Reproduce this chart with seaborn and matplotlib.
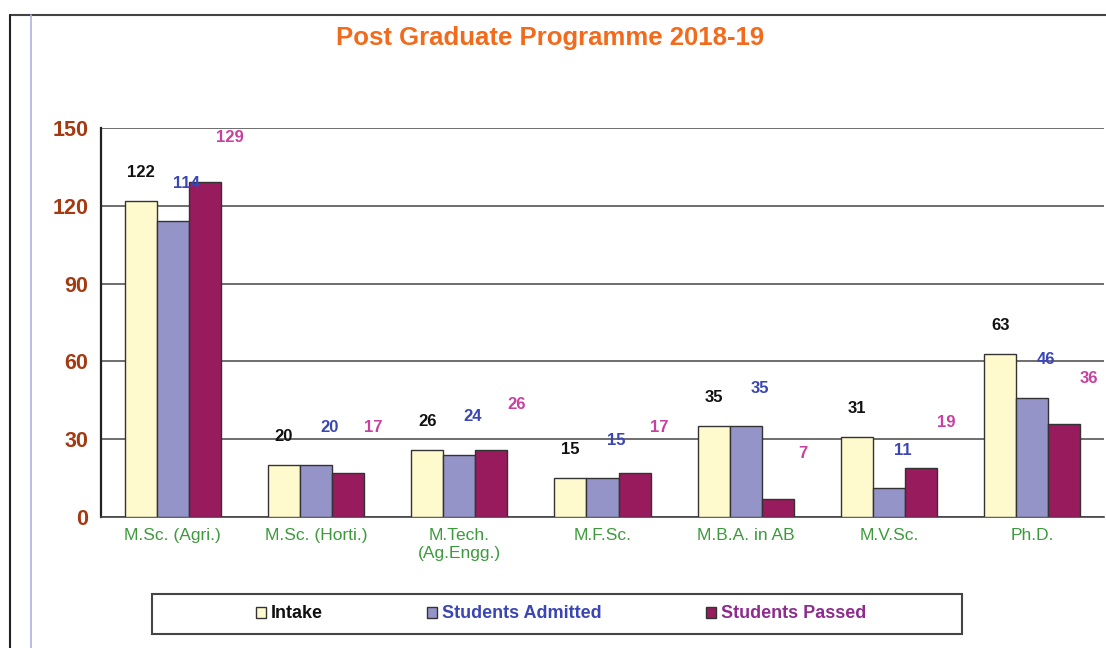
import numpy as np
import pandas as pd
import seaborn as sns
import matplotlib.pyplot as plt
from matplotlib.lines import Line2D
from matplotlib.patches import Rectangle

# chart values
programmes = ['M.Sc. (Agri.)', 'M.Sc. (Horti.)', 'M.Tech.\n(Ag.Engg.)', 'M.F.Sc.',
              'M.B.A. in AB', 'M.V.Sc.', 'Ph.D.']
intake = [122, 20, 26, 15, 35, 31, 63]
admitted = [114, 20, 24, 15, 35, 11, 46]
passed = [129, 17, 26, 17, 7, 19, 36]
series = ['Intake', 'Students Admitted', 'Students Passed']
y_ticks = [0, 30, 60, 90, 120, 150]

bar_colors = ['#FFFACD', '#9494C8', '#981B5E']
label_colors = ['#111111', '#3A46B4', '#C840A0']
legend_text_colors = ['#111111', '#3A46B4', '#8E2C8E']

df = pd.DataFrame({
    'programme': programmes * 3,
    'series': [s for s in series for _ in programmes],
    'value': intake + admitted + passed,
})

sns.set_style('white')
plt.rcParams['font.family'] = ['Liberation Sans', 'DejaVu Sans']

fig = plt.figure(figsize=(11.06, 6.48), dpi=100)
ax = fig.add_axes([101 / 1106, 1 - 517 / 648, 1003 / 1106, 389 / 648])

sns.barplot(data=df, x='programme', y='value', hue='series', order=programmes,
            hue_order=series, palette=bar_colors, width=0.67, edgecolor='#333333',
            linewidth=1.0, saturation=1, ax=ax, legend=False, zorder=3)

# value labels, offset like the original Excel layout
offsets = [(0, 15), (10, 22), (18, 27)]
for cont, col, (dx, dy) in zip(ax.containers, label_colors, offsets):
    for bar in cont:
        h = bar.get_height()
        ax.annotate(f'{h:.0f}', (bar.get_x() + bar.get_width() / 2, h),
                    xytext=(dx, dy), textcoords='offset points', ha='center',
                    va='bottom', fontsize=12, fontweight='bold', color=col)

ax.set_ylim(0, 150)
ax.set_xlim(-0.5, len(programmes) - 0.5)
ax.set_yticks(y_ticks)
ax.set_yticklabels([str(t) for t in y_ticks], fontsize=15.5, fontweight='bold',
                   color='#A33A12')
ax.yaxis.grid(True, color='#555555', linewidth=1.2, zorder=0)
ax.set_axisbelow(True)
ax.tick_params(axis='y', length=6, width=1.2, color='#222222', pad=3)
ax.tick_params(axis='x', which='major', length=0, pad=8, labelsize=12.5,
               labelcolor='#3C9A3C')
ax.set_xticks(np.arange(-0.5, len(programmes), 1), minor=True)
ax.tick_params(axis='x', which='minor', length=4, width=1, color='#444444')
ax.set_xlabel('')
ax.set_ylabel('')
for side in ['top', 'right']:
    ax.spines[side].set_visible(False)
ax.spines['left'].set_linewidth(1.6)
ax.spines['left'].set_color('#222222')
ax.spines['bottom'].set_linewidth(1.2)
ax.spines['bottom'].set_color('#444444')

fig.text(550 / 1106, 1 - 38 / 648, 'Post Graduate Programme 2018-19', ha='center',
         va='center', fontsize=18.5, fontweight='bold', color='#F26A1B')

# page borders
fig.add_artist(Line2D([10 / 1106, 1], [1 - 15 / 648] * 2, color='#444444', lw=1.5))
fig.add_artist(Line2D([10 / 1106] * 2, [0, 1 - 15 / 648], color='#222222', lw=1.5))
fig.add_artist(Line2D([31 / 1106] * 2, [0, 1 - 15 / 648], color='#B0B0E8', lw=1.2))

# legend box
fig.add_artist(Rectangle((152 / 1106, 1 - 634 / 648), 810 / 1106, 40 / 648,
                         transform=fig.transFigure, fill=False,
                         edgecolor='#444444', lw=1.5))
handles = [Rectangle((0, 0), 1, 1, facecolor=c, edgecolor='#333333', lw=1)
           for c in bar_colors]
leg = fig.legend(handles, series, loc='center', bbox_to_anchor=(561 / 1106, 1 - 614 / 648),
                 ncol=3, frameon=False, handlelength=0.55, handleheight=0.55,
                 handletextpad=0.25, columnspacing=5.8,
                 prop={'weight': 'bold', 'size': 13})
for t, c in zip(leg.get_texts(), legend_text_colors):
    t.set_color(c)

fig.savefig('out.png', dpi=100)
